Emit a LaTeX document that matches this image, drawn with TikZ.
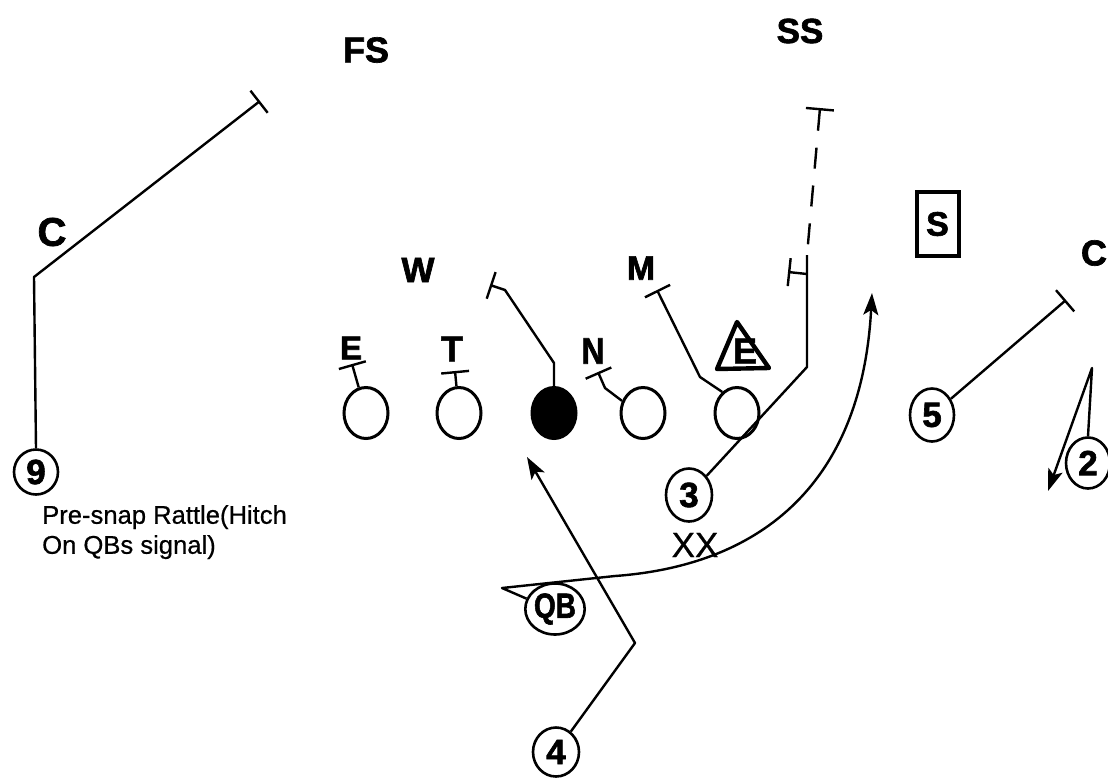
\documentclass[tikz,border=0pt]{standalone}
\usepackage{fontspec}
\setmainfont{Liberation Sans}[UprightFeatures={FakeBold=0.6},BoldFeatures={FakeBold=1.8}]
\usetikzlibrary{shapes.geometric,arrows.meta}
\begin{document}
\begin{tikzpicture}[x=1pt,y=-1pt,
  lineman/.style={ellipse,draw,line width=3pt,minimum width=44pt,minimum height=51pt,inner sep=0pt},
  snapper/.style={lineman,fill=black},
  receiver/.style={lineman,line width=2.6pt,font=\bfseries\fontsize{35}{35}\selectfont},
  tag/.style={font=\bfseries\fontsize{34}{34}\selectfont,inner sep=0pt},
  route/.style={line width=2.4pt,line join=round},
  block/.style={route,-{Bar[width=28pt,line width=2.4pt]}},
  run/.style={route,-{Stealth[length=22pt,width=15pt,inset=5pt]}},
]
\useasboundingbox (0,0) rectangle (1108,777);
\fill[white] (0,0) rectangle (1108,777);

% defenders
\node[tag,font=\bfseries\fontsize{36}{36}\selectfont] (fs) at (366,50) {FS};
\node[tag,font=\bfseries\fontsize{35}{35}\selectfont] (ss) at (800,31) {SS};
\node[tag,font=\bfseries\fontsize{40}{40}\selectfont] (cL) at (52,232) {C};
\node[tag,font=\bfseries\fontsize{36}{36}\selectfont] (cR) at (1094,253) {C};
\node[tag,font=\bfseries\fontsize{35}{35}\selectfont] (w) at (418,270) {W};
\node[tag,font=\bfseries\fontsize{34}{34}\selectfont] (m) at (641,268) {M};
\node[tag,font=\bfseries\fontsize{33}{33}\selectfont] (dE) at (351,348) {E};
\node[tag,font=\bfseries\fontsize{36}{36}\selectfont] (dT) at (452,349) {T};
\node[tag,font=\bfseries\fontsize{37}{37}\selectfont] (dN) at (593,351) {\scalebox{0.85}[1]{N}};
\node[tag,draw,line width=4pt,minimum width=42pt,minimum height=64pt] (sbox) at (937.5,224) {S};
\draw[line width=4.4pt,line join=round] (737,322) -- (717,369) -- (769,368) -- cycle;
\node[tag,font=\bfseries\fontsize{36}{36}\selectfont] (triE) at (745,351) {E};

% offensive line
\node[lineman] (lE) at (366,413) {};
\node[lineman] (lT) at (459,413) {};
\node[snapper] (ctr) at (554,413) {};
\node[lineman] (lN) at (643,413) {};
\node[lineman] (lR) at (737,413) {};

% backs and receivers
\node[receiver,minimum height=45pt] (r9) at (36,472) {9};
\node[receiver,minimum height=53pt] (r5) at (932,415) {5};
\node[receiver] (r2) at (1088,463) {2};
\node[receiver,minimum width=46pt,minimum height=53pt] (r3) at (689,495) {3};
\node[receiver,minimum width=46pt,minimum height=49pt] (r4) at (556,752) {4};
\node[receiver] (qb) at (555,609) {\scalebox{0.8}[1]{QB}};
\node[font=\fontsize{35}{35}\selectfont,inner sep=0pt] (xx) at (695,545) {XX};
\node[anchor=north west,align=left,inner sep=0pt,font=\fontsize{25.6}{30}\selectfont] (note) at (42,505)
  {Pre-snap Rattle(Hitch\\On QBs signal)};

% route points
\coordinate (p9) at (34,277);
\coordinate (b9) at (260,101);
\coordinate (p5) at (1066,300);
\coordinate (p2) at (1092,368);
\coordinate (t2) at (1048,491);
\coordinate (p3) at (807,367);
\coordinate (h3) at (807,255);
\coordinate (hs) at (807,274);
\coordinate (hb) at (788,272);
\coordinate (top3) at (820,108);
\coordinate (p4) at (635,643);
\coordinate (t4) at (527,457);
\coordinate (pq) at (502,588);
\coordinate (pq2) at (615,576);
\coordinate (tq) at (872,293);
\coordinate (bE) at (352,364);
\coordinate (bT) at (455,371);
\coordinate (nN) at (605,388);
\coordinate (bN) at (598,372);
\coordinate (mM) at (700,377);
\coordinate (bM) at (657,290);
\coordinate (w1) at (554,363);
\coordinate (w2) at (505,290);
\coordinate (bW) at (490,285);

% blocks
\draw[block] (lE) -- (bE);
\draw[block] (lT) -- (bT);
\draw[block] (lN.150) -- (nN) -- (bN);
\draw[block] (lR.125) -- (mM) -- (bM);
\draw[block] (ctr.north) -- (w1) -- (w2) -- (bW);

% routes
\draw[block] (r9.north) -- (p9) -- (b9);
\draw[block] (r5) -- (p5);
\draw[route] (r3) -- (p3) -- (h3);
\draw[block] (hs) -- (hb);
\draw[route,{Bar[width=28pt,line width=2.4pt]}-,dash pattern=on 21pt off 17pt] (top3) -- (h3);
\draw[run] (r2.north) -- (p2) -- (t2);
\draw[run] (r4) -- (p4) -- (t4);
\draw[run] (qb.160) -- (pq) -- (pq2) .. controls (765,565) and (862,480) .. (tq);
\end{tikzpicture}
\end{document}
